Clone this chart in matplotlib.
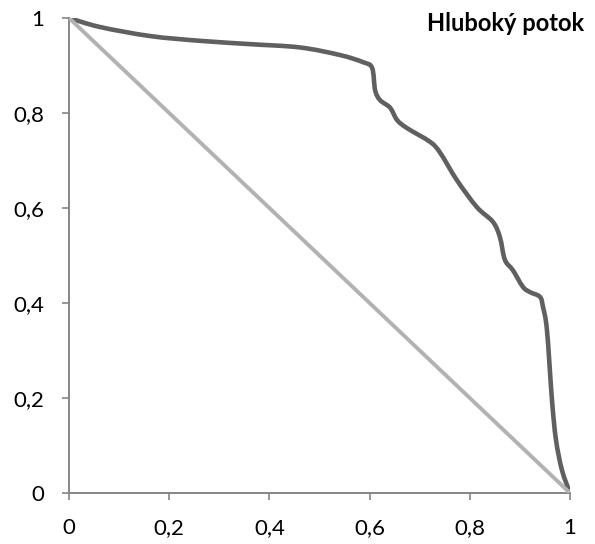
import matplotlib.pyplot as plt
from matplotlib.ticker import FuncFormatter
from matplotlib.path import Path
from matplotlib.patches import PathPatch

# curve
x_curve = [0, 0.062, 0.162, 0.261, 0.361, 0.461, 0.541, 0.587, 0.605, 0.611, 0.621,
           0.641, 0.655, 0.675, 0.721, 0.741, 0.774, 0.814, 0.846, 0.860, 0.870,
           0.886, 0.906, 0.920, 0.940, 0.946, 0.954, 0.964, 0.972, 0.984, 1.0]
y_curve = [1, 0.981, 0.962, 0.952, 0.945, 0.938, 0.922, 0.907, 0.895, 0.848, 0.827,
           0.811, 0.785, 0.768, 0.739, 0.716, 0.659, 0.602, 0.571, 0.539, 0.491,
           0.469, 0.434, 0.423, 0.413, 0.392, 0.343, 0.196, 0.112, 0.048, 0]
x_diag = [0, 1]
y_diag = [1, 0]
ticks = [0, 0.2, 0.4, 0.6, 0.8, 1]
title = "Hluboký potok"

plt.rcParams['font.family'] = ['Lato', 'DejaVu Sans']


def smooth_path(xs, ys, t=1/6):
    # Excel-like smoothed line: Catmull-Rom segments drawn as cubic beziers
    verts = [(xs[0], ys[0])]
    codes = [Path.MOVETO]
    n = len(xs)
    for i in range(n - 1):
        x0, y0 = xs[max(i - 1, 0)], ys[max(i - 1, 0)]
        x1, y1 = xs[i], ys[i]
        x2, y2 = xs[i + 1], ys[i + 1]
        x3, y3 = xs[min(i + 2, n - 1)], ys[min(i + 2, n - 1)]
        verts += [(x1 + (x2 - x0) * t, y1 + (y2 - y0) * t),
                  (x2 - (x3 - x1) * t, y2 - (y3 - y1) * t),
                  (x2, y2)]
        codes += [Path.CURVE4] * 3
    return Path(verts, codes)


fig = plt.figure(figsize=(5.95, 5.44), dpi=100)
ax = fig.add_axes([69/595, 51/544, 501/595, 475/544])

ax.plot(x_diag, y_diag, color="#b2b2b2", linewidth=2.8, solid_capstyle="round")
ax.add_patch(PathPatch(smooth_path(x_curve, y_curve), facecolor="none",
                       edgecolor="#606060", linewidth=3.3, capstyle="round",
                       joinstyle="round"))

ax.set_xlim(0, 1)
ax.set_ylim(0, 1)
ax.set_xticks(ticks)
ax.set_yticks(ticks)
fmt = FuncFormatter(lambda v, p: ("%g" % v).replace('.', ','))
ax.xaxis.set_major_formatter(fmt)
ax.yaxis.set_major_formatter(fmt)
ax.tick_params(length=5, width=1.2, color="#868686", labelsize=16, pad=13)
for s in ["top", "right"]:
    ax.spines[s].set_visible(False)
for s in ["left", "bottom"]:
    ax.spines[s].set_color("#868686")
    ax.spines[s].set_linewidth(1.4)
for sp in ax.spines.values():
    sp.set_zorder(0)

fig.text(584/595, 1 - 12/544, title, ha="right", va="top", fontsize=17, fontweight="bold")

plt.savefig("out.png")
